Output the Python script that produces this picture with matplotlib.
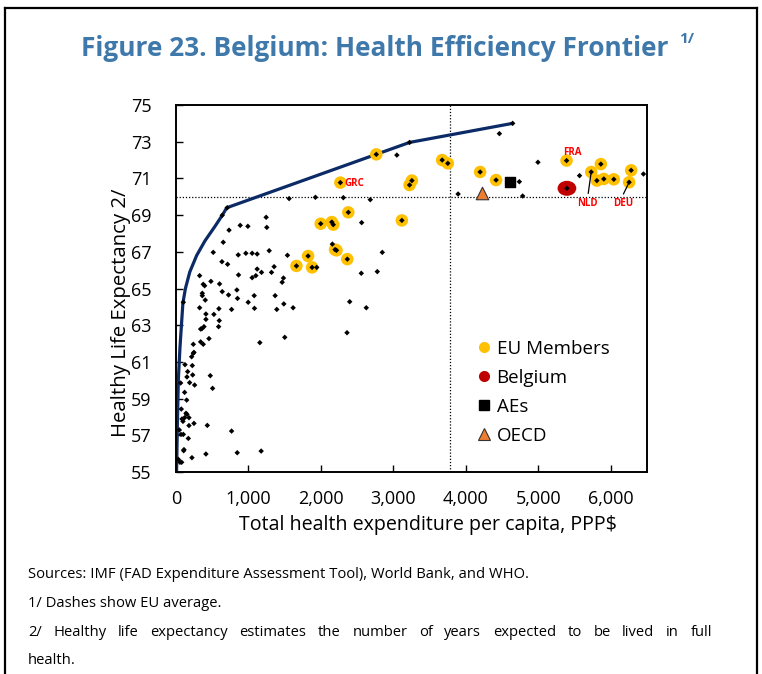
import matplotlib
matplotlib.use('Agg')
import matplotlib.pyplot as plt
from matplotlib.lines import Line2D
from matplotlib.path import Path
from matplotlib.transforms import Affine2D

plt.rcParams['font.family'] = ['Open Sans', 'DejaVu Sans']

# ---------------- data ----------------
frontier_x = [8, 18, 32, 55, 95, 130, 190, 285, 400, 540, 640, 700, 3223, 4646]
frontier_y = [55.0, 57.3, 60.0, 61.8, 64.2, 65.0, 65.9, 66.8, 67.6, 68.4, 69.0, 69.4, 72.96, 74.0]

others_x = [732, 652, 514, 859, 964, 1051, 1120, 1286, 1538, 1942, 2158, 2847, 2557, 2778,
            2397, 2626, 2360, 1501, 1157, 326, 376, 395, 482, 601, 634, 712, 863, 1051, 1102,
            1120, 1180, 1318, 1354, 1465, 1483, 363, 363, 404, 638, 725, 840, 849, 996, 1079,
            1083, 1368, 1391, 1488, 1616, 326, 413, 413, 523, 592, 767, 597, 588, 386, 340,
            358, 455, 340, 376, 239, 248, 239, 216, 225, 124, 161, 151, 230, 188, 257, 64,
            473, 505, 119, 147, 73, 138, 151, 83, 96, 119, 179, 248, 179, 432, 46, 69, 101,
            170, 767, 110, 106, 220, 413, 845, 1175, 32, 55, 78,
            3048, 3223, 3893, 1561, 1924, 2309, 2681, 707, 638, 1244, 1253, 886, 992, 2562, 101,
            4646, 4463, 4738, 4784, 4995, 5569, 6451]
others_y = [68.18, 67.52, 66.97, 66.83, 66.92, 66.92, 66.88, 67.06, 66.81, 66.15, 67.42, 66.97,
            65.83, 65.92, 64.28, 63.95, 62.59, 62.34, 62.05, 65.70, 65.23, 65.15, 65.39, 65.25,
            66.46, 66.32, 65.74, 65.59, 65.70, 66.06, 65.88, 65.88, 66.19, 65.34, 65.57, 64.74,
            64.61, 64.37, 64.83, 64.65, 64.92, 64.46, 64.25, 64.61, 63.92, 64.61, 63.86, 64.16,
            63.95, 63.95, 63.61, 63.32, 63.59, 63.90, 63.86, 63.25, 62.92, 62.92, 62.79, 62.81,
            62.27, 62.09, 61.96, 61.96, 61.52, 61.47, 61.28, 60.80, 60.85, 60.47, 60.18, 60.29,
            59.87, 59.74, 59.85, 60.25, 59.56, 59.34, 58.92, 58.43, 58.20, 58.14, 57.89, 57.76,
            57.96, 57.96, 57.65, 57.53, 57.54, 57.29, 57.05, 57.05, 56.83, 57.23, 56.22, 56.16,
            55.78, 55.98, 56.05, 56.14, 55.69, 55.53, 55.53,
            72.27, 72.96, 70.15, 69.90, 69.97, 69.95, 69.84, 69.40, 68.99, 68.88, 68.33, 68.44,
            68.39, 68.59, 64.25,
            74.0, 73.44, 70.82, 70.04, 71.88, 71.15, 71.24]

eu_x = [1662, 1823, 1878, 1997, 2150, 2170, 2195, 2215, 2364, 2378, 2268, 2764, 3117, 3255,
        3223, 3673, 3751, 4197, 4417, 5390, 5730, 5863, 5808, 5904, 6042, 6281, 6253]
eu_y = [66.23, 66.77, 66.15, 68.53, 68.62, 68.48, 67.12, 67.08, 66.60, 69.15, 70.77, 72.31,
        68.71, 70.88, 70.64, 72.00, 71.82, 71.35, 70.91, 71.97, 71.35, 71.78, 70.88, 70.97,
        70.95, 71.44, 70.79]

belgium_x, belgium_y = [5395], [70.46]
aes_x, aes_y = [4605], [70.78]
oecd_x, oecd_y = [4224], [70.20]
eu_avg_x, eu_avg_y = 3788, 70.0

labels = ['GRC', 'FRA', 'NLD', 'DEU']
label_pos = [(2466, 70.71), (5468, 72.42), (5684, 69.64), (6176, 69.64)]
label_lines = {'NLD': [(5689, 70.19), (5730, 71.35)], 'DEU': [(6176, 70.16), (6253, 70.79)]}

legend_labels = ['EU Members', 'Belgium', 'AEs', 'OECD']
xticks = [0, 1000, 2000, 3000, 4000, 5000, 6000]
yticks = [55, 57, 59, 61, 63, 65, 67, 69, 71, 73, 75]

title = 'Figure 23. Belgium: Health Efficiency Frontier'
notes = ['Sources: IMF (FAD Expenditure Assessment Tool), World Bank, and WHO.',
         '1/ Dashes show EU average.',
         '2/ Healthy life expectancy estimates the number of years expected to be lived in full',
         'health.']
notes_justified = [False, False, True, False]

# ---------------- figure ----------------
W, H = 762, 674
fig = plt.figure(figsize=(W / 100, H / 100), dpi=100)
renderer = fig.canvas.get_renderer()


def fit_width(txt, target, vertical=False):
    bb = txt.get_window_extent(renderer)
    cur = bb.height if vertical else bb.width
    txt.set_fontsize(txt.get_fontsize() * target / cur)


# frame around figure
fig.add_artist(Line2D([5 / W, 757 / W], [1 - 8 / H, 1 - 8 / H], color='black', lw=1.6))
fig.add_artist(Line2D([5 / W, 5 / W], [1 - 8 / H, -0.01], color='black', lw=1.6))
fig.add_artist(Line2D([757 / W, 757 / W], [1 - 8 / H, -0.01], color='black', lw=1.6))

ax = fig.add_axes([176 / W, 1 - 472 / H, 471 / W, 367 / H])

navy = '#0B2A66'
gold = '#FFC000'
red = '#C00000'
tri = '#ED7D31'

ax.axvline(eu_avg_x, color='black', ls=(0, (1, 1.5)), lw=0.9, zorder=1)
ax.axhline(eu_avg_y, color='black', ls=(0, (1, 1.5)), lw=0.9, zorder=1)

ax.plot(frontier_x, frontier_y, color=navy, lw=2.3, zorder=2, solid_capstyle='round',
        solid_joinstyle='round')

ax.scatter(eu_x, eu_y, s=9.0 ** 2, color=gold, edgecolors='none', zorder=3)
ell = Path.unit_circle().transformed(Affine2D().scale(1.25, 1.0))
ax.scatter(belgium_x, belgium_y, s=13.5 ** 2, marker=ell, color=red, edgecolors='none', zorder=3)
ax.scatter(aes_x, aes_y, s=7.5 ** 2, marker='s', color='black', zorder=4)
ax.scatter(oecd_x, oecd_y, s=9 ** 2, marker='^', color=tri, edgecolors='#333333', linewidths=0.8, zorder=4)

dots_x = others_x + eu_x + belgium_x
dots_y = others_y + eu_y + belgium_y
ax.scatter(dots_x, dots_y, s=2.8 ** 2, marker='D', color='black', edgecolors='none', zorder=5)

for lab, (lx, ly) in zip(labels, label_pos):
    ax.text(lx, ly, lab, color='#FF0000', fontsize=7, fontweight='bold', ha='center', va='center', zorder=6)
for lab, seg in label_lines.items():
    ax.plot([seg[0][0], seg[1][0]], [seg[0][1], seg[1][1]], color='black', lw=0.9, zorder=6)

ax.set_xlim(0, 6500)
ax.set_ylim(55, 75)
ax.set_xticks(xticks)
ax.set_xticklabels([f'{v:,}' for v in xticks])
ax.set_yticks(yticks)
ax.tick_params(direction='in', length=5, width=1, labelsize=13, colors='black')
ax.tick_params(axis='y', pad=17.5)
ax.tick_params(axis='x', pad=13)
for sp in ax.spines.values():
    sp.set_linewidth(1.4)

xl = fig.text(428 / W, 1 - 525 / H, 'Total health expenditure per capita, PPP$', ha='center', va='center',
              fontsize=13)
fit_width(xl, 375)
yl = fig.text(121 / W, 1 - 313 / H, 'Healthy Life Expectancy 2/', ha='center', va='center',
              rotation=90, fontsize=13)
fit_width(yl, 248, vertical=True)

handles = [
    Line2D([], [], ls='none', marker='o', ms=8, color=gold, mec='none'),
    Line2D([], [], ls='none', marker='o', ms=8, color=red, mec='none'),
    Line2D([], [], ls='none', marker='s', ms=6.5, color='black'),
    Line2D([], [], ls='none', marker='^', ms=8, color=tri, mec='#333333', mew=0.8),
]
leg = ax.legend(handles, legend_labels, loc='upper left', bbox_to_anchor=(0.625, 0.38), frameon=False,
                fontsize=13.5, handlelength=0.7, handletextpad=0.3, labelspacing=0.58, borderaxespad=0)

tt = fig.text(375 / W, 1 - 48 / H, title, ha='center', va='center',
              fontsize=18, fontweight='bold', color='#3F78AA')
fit_width(tt, 589)
fig.text(679 / W, 1 - 39 / H, '1/', ha='left', va='center', fontsize=11, fontweight='bold', color='#3F78AA')

# footnotes (font size set from the first line; justified line spread to the text width)
probe = fig.text(28 / W, 0.5, notes[0], fontsize=10.5)
fit_width(probe, 500)
note_fs = probe.get_fontsize()
probe.remove()
left_px, right_px = 28, 712
for i, (t, just) in enumerate(zip(notes, notes_justified)):
    ypos = 1 - (575 + 28.5 * i) / H
    if not just:
        fig.text(left_px / W, ypos, t, ha='left', va='center', fontsize=note_fs)
        continue
    words = t.split(' ')
    arts = [fig.text(0, ypos, w, ha='left', va='center', fontsize=note_fs) for w in words]
    widths = [a.get_window_extent(renderer).width for a in arts]
    gap = (right_px - left_px - sum(widths)) / (len(words) - 1)
    x = left_px
    for a, w in zip(arts, widths):
        a.set_x(x / W)
        x += w + gap

fig.savefig('out.png', dpi=100)
